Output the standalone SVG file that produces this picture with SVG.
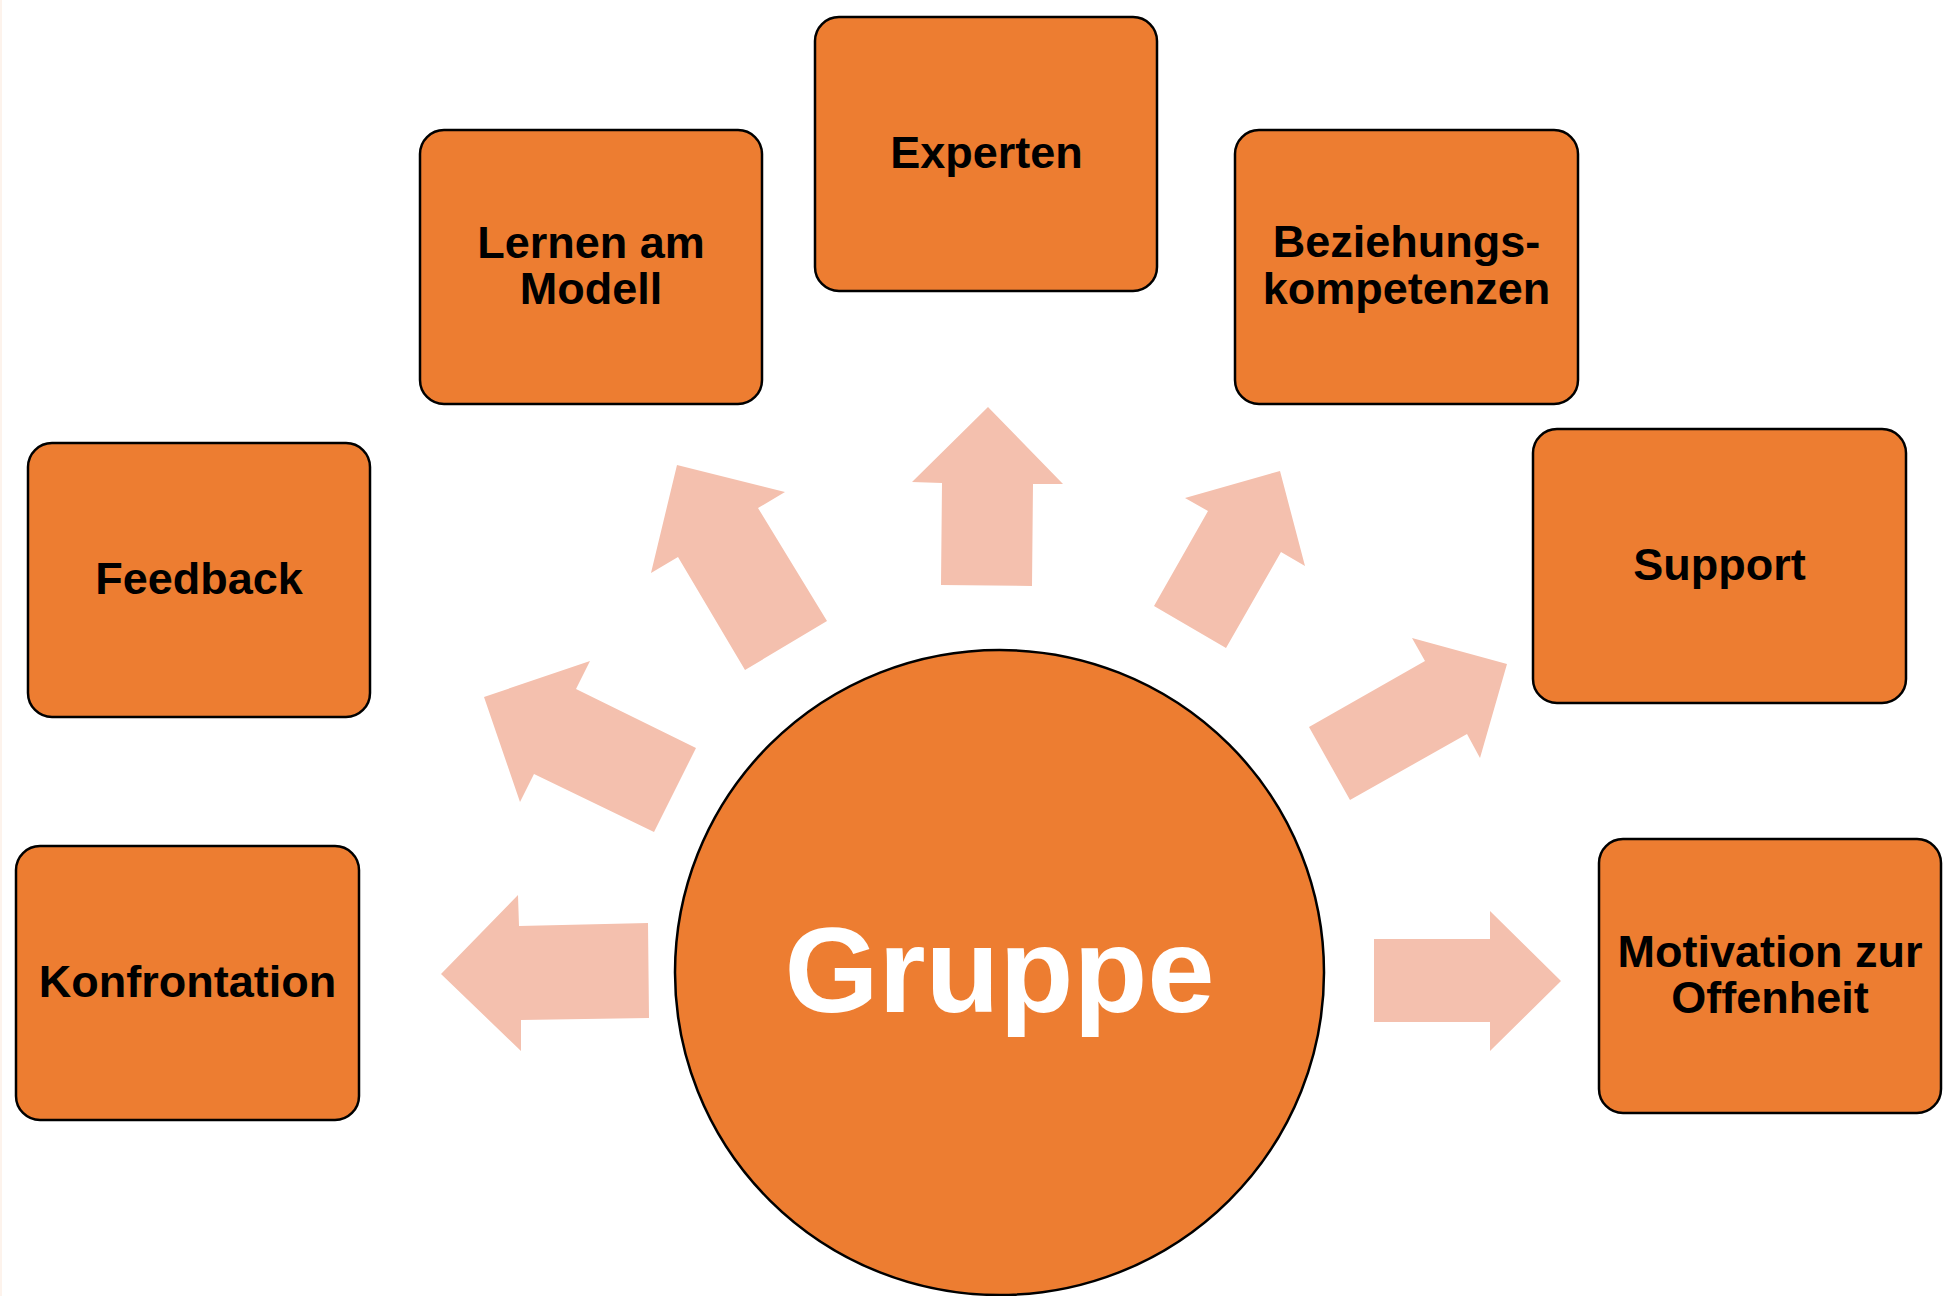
<svg xmlns="http://www.w3.org/2000/svg" width="1947" height="1296" viewBox="0 0 1947 1296">
<style>
.box{fill:#ED7D31;stroke:#000;stroke-width:2.5}
.lbl{font-family:"Liberation Sans",Arial,sans-serif;font-weight:bold;font-size:45px;fill:#000;text-anchor:middle}
.arr{fill:#F4C0AE}
.hub{fill:#ED7D31;stroke:#000;stroke-width:2.5}
.hubtxt{font-family:"Liberation Sans",Arial,sans-serif;font-weight:bold;font-size:121px;fill:#fff;text-anchor:middle}
</style>
<rect x="0" y="0" width="1947" height="1296" fill="#fff"/>
<rect x="0" y="0" width="2" height="1296" fill="#FDF3EC"/>
<g id="connectors">
  <polygon class="arr" points="988,407 1063,484 1033,484 1032,586 941,585 942,483 912,482"/>
  <polygon class="arr" points="677,465 785,492 758,508 827,621 745,670 678,557 651,573"/>
  <polygon class="arr" points="1280,471 1305,566 1281,552 1226,648 1154,606 1208,511 1185,498"/>
  <polygon class="arr" points="1507,664 1480,758 1467,734 1350,800 1309,727 1425,661 1412,638"/>
  <polygon class="arr" points="484,697 590,661 576,689 696,748 654,832 534,774 520,802"/>
  <polygon class="arr" points="441,974 518,895 519,926 648,923 649,1018 521,1020 521,1051"/>
  <polygon class="arr" points="1561,981 1490,1051 1490,1022 1374,1022 1374,939 1490,939 1490,911"/>
</g>
<g id="node-gruppe">
  <ellipse class="hub" cx="999.5" cy="972.5" rx="324.5" ry="322.5"/>
  <text class="hubtxt" x="999.5" y="1012">Gruppe</text>
</g>
<g id="node-experten">
  <rect class="box" x="815" y="17" width="342" height="274" rx="24"/>
  <text class="lbl" x="986.5" y="168">Experten</text>
</g>
<g id="node-lernen">
  <rect class="box" x="420" y="130" width="342" height="274" rx="24"/>
  <text class="lbl" x="591" y="258">Lernen am</text>
  <text class="lbl" x="591" y="304">Modell</text>
</g>
<g id="node-beziehung">
  <rect class="box" x="1235" y="130" width="343" height="274" rx="24"/>
  <text class="lbl" x="1406.5" y="257">Beziehungs-</text>
  <text class="lbl" x="1406.5" y="304">kompetenzen</text>
</g>
<g id="node-feedback">
  <rect class="box" x="28" y="443" width="342" height="274" rx="24"/>
  <text class="lbl" x="199" y="594">Feedback</text>
</g>
<g id="node-support">
  <rect class="box" x="1533" y="429" width="373" height="274" rx="24"/>
  <text class="lbl" x="1719.5" y="580">Support</text>
</g>
<g id="node-konfrontation">
  <rect class="box" x="16" y="846" width="343" height="274" rx="24"/>
  <text class="lbl" x="187.5" y="997">Konfrontation</text>
</g>
<g id="node-motivation">
  <rect class="box" x="1599" y="839" width="342" height="274" rx="24"/>
  <text class="lbl" x="1770" y="967">Motivation zur</text>
  <text class="lbl" x="1770" y="1013">Offenheit</text>
</g>
</svg>
